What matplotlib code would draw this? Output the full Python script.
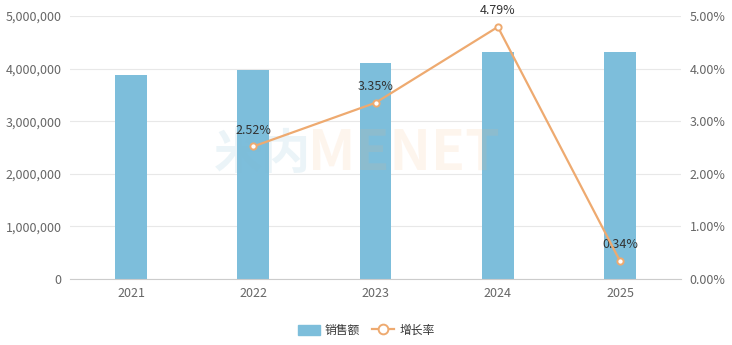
import numpy as np
import matplotlib
matplotlib.use('Agg')
import matplotlib.pyplot as plt
from matplotlib.lines import Line2D
from matplotlib.patches import Patch
from matplotlib.ticker import FuncFormatter

plt.rcParams['font.family'] = ['Noto Sans CJK SC', 'DejaVu Sans']

years = ['2021', '2022', '2023', '2024', '2025']
sales = [3878000, 3976000, 4109000, 4306000, 4321000]
growth_years = ['2022', '2023', '2024', '2025']
growth = [2.52, 3.35, 4.79, 0.34]

bar_color = '#7dbedb'
line_color = '#eeaa70'
text_gray = '#666666'

fig = plt.figure(figsize=(7.32, 3.45), dpi=100)
ax1 = fig.add_axes([0.0956, 0.191, 0.835, 0.763])
ax2 = ax1.twinx()

x = np.arange(len(years))
ax1.bar(x, sales, width=0.26, color=bar_color, zorder=2)
ax1.set_xlim(-0.5, len(years) - 0.5)
ax1.set_ylim(0, 5000000)
ax1.set_yticks(np.arange(0, 5000001, 1000000))
ax1.yaxis.set_major_formatter(FuncFormatter(lambda v, p: f'{int(v):,}'))
ax1.set_xticks(x)
ax1.set_xticklabels(years)
ax1.grid(axis='y', color='#e8e8e8', linewidth=0.8, zorder=0)
ax1.set_axisbelow(True)

# faint watermark over the bars
ax1.text(0.235, 0.475, '米内', transform=ax1.transAxes, fontsize=35, color='#7fb8d0',
         alpha=0.15, ha='left', va='center', fontweight='bold', zorder=3)
ax1.text(0.39, 0.475, 'MENET', transform=ax1.transAxes, fontsize=40, color='#f7b27a',
         alpha=0.13, ha='left', va='center', fontweight='bold', zorder=3)

gx = [years.index(y) for y in growth_years]
ax2.plot(gx, growth, color=line_color, linewidth=1.6, marker='o', markersize=4.5,
         markerfacecolor='white', markeredgecolor=line_color, markeredgewidth=1.4, zorder=4)
for xi, g in zip(gx, growth):
    ax2.annotate(f'{g:.2f}%', (xi, g), xytext=(0, 7), textcoords='offset points',
                 ha='center', va='bottom', fontsize=9, color='#333333')
ax2.set_ylim(0, 5)
ax2.set_yticks(np.arange(0, 5.01, 1))
ax2.yaxis.set_major_formatter(FuncFormatter(lambda v, p: f'{v:.2f}%'))

for a in (ax1, ax2):
    for s in a.spines.values():
        s.set_visible(False)
    a.tick_params(axis='both', length=0, labelsize=9, labelcolor=text_gray, pad=6)
ax1.spines['bottom'].set_visible(True)
ax1.spines['bottom'].set_color('#cccccc')

handles = [Patch(facecolor=bar_color, edgecolor=bar_color, label='销售额'),
           Line2D([0], [0], color=line_color, linewidth=1.6, marker='o', markersize=7,
                  markerfacecolor='white', markeredgecolor=line_color, markeredgewidth=1.4,
                  label='增长率')]
fig.legend(handles=handles, loc='center', bbox_to_anchor=(0.5, 0.042), ncol=2, frameon=False,
           fontsize=8.5, handlelength=1.9, handleheight=1.0, handletextpad=0.4,
           columnspacing=1.0, labelcolor='#333333')

fig.savefig('out.png', dpi=100)
